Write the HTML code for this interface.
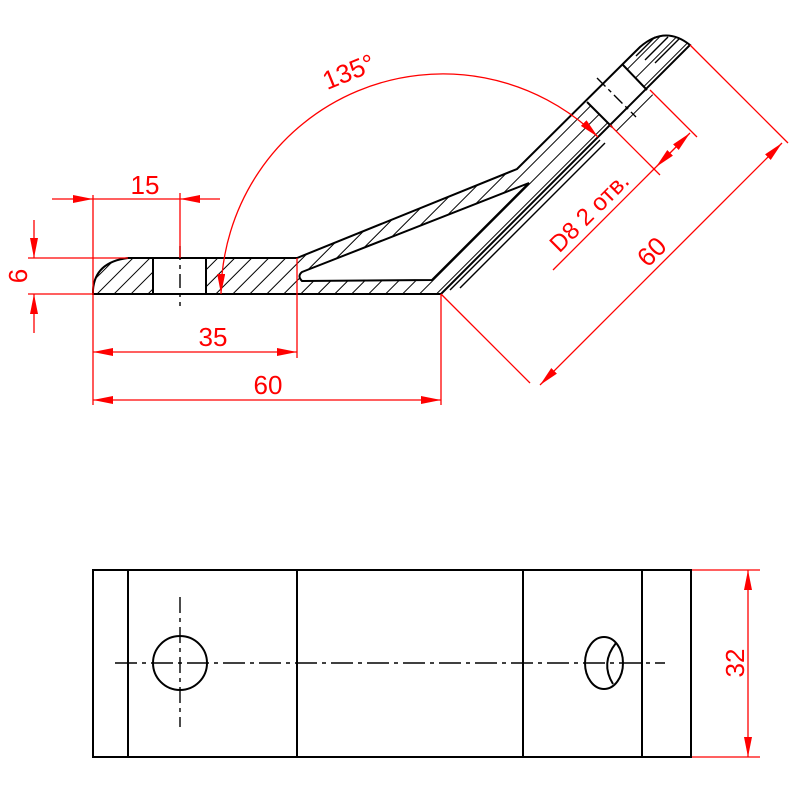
<!DOCTYPE html>
<html><head><meta charset="utf-8"><style>body{margin:0;background:#fff}svg{display:block}</style></head><body>
<svg width="800" height="800" viewBox="0 0 800 800" xmlns="http://www.w3.org/2000/svg" font-family="Liberation Sans, sans-serif">
<defs>
<pattern id="h" patternUnits="userSpaceOnUse" width="12" height="12" patternTransform="rotate(45)">
<line x1="0" y1="0" x2="0" y2="12" stroke="#000" stroke-width="2"/>
</pattern>
<marker id="a" viewBox="0 0 20 8" refX="20" refY="4" markerWidth="20" markerHeight="8" markerUnits="userSpaceOnUse" orient="auto-start-reverse"><path d="M0,0 L20,4 L0,8 Z" fill="red"/></marker>
</defs>
<path fill="url(#h)" fill-rule="evenodd" d="M93,294 L441,294 L690,45 Q665,25 640,47 L517,169 L297,258 L128,258 Q95,262 93,290 Z
M153,258 L206,258 L206,294 L153,294 Z
M302,272 L529,183 L432,280 L302,281 Q297,276 302,272 Z
M587,102 L623,65 L659,101 L623,138 Z"/>
<g fill="none" stroke="#000" stroke-width="2">
<path d="M93,294 L441,294 L690,45 Q665,25 640,47 L517,169 L297,258 L128,258 Q95,262 93,290 Z"/>
<path d="M302,272 L529,183 L432,280 L302,281 Q297,276 302,272 Z"/>
<line x1="153" y1="258" x2="153" y2="294"/><line x1="206" y1="258" x2="206" y2="294"/>
<line x1="587" y1="102" x2="612" y2="127"/><line x1="623" y1="65" x2="647" y2="90"/>
</g>
<g stroke="#000" stroke-width="1.4">
<line x1="450" y1="290" x2="600" y2="140"/><line x1="460" y1="288" x2="605" y2="143"/>
<line x1="636" y1="56" x2="655" y2="37"/><line x1="645" y1="60" x2="668" y2="37"/><line x1="655" y1="63" x2="680" y2="38"/>
<line x1="180" y1="246" x2="180" y2="306" stroke-dasharray="14,5,4,5"/>
<line x1="597" y1="78" x2="636" y2="117" stroke-dasharray="12,4,4,4"/>
</g>
<g stroke="red" stroke-width="1.3" fill="none">
<line x1="93" y1="195" x2="93" y2="405"/>
<line x1="180" y1="193" x2="180" y2="258"/>
<line x1="297" y1="258" x2="297" y2="358"/>
<line x1="441" y1="294" x2="441" y2="405"/>
<line x1="52" y1="199" x2="93" y2="199" marker-end="url(#a)"/>
<line x1="93" y1="199" x2="180" y2="199"/>
<line x1="220" y1="199" x2="180" y2="199" marker-end="url(#a)"/>
<line x1="28" y1="258" x2="128" y2="258"/><line x1="28" y1="294" x2="93" y2="294"/>
<line x1="34" y1="220" x2="34" y2="258" marker-end="url(#a)"/>
<line x1="34" y1="333" x2="34" y2="294" marker-end="url(#a)"/>
<line x1="93" y1="352" x2="297" y2="352" marker-start="url(#a)" marker-end="url(#a)"/>
<line x1="93" y1="400" x2="441" y2="400" marker-start="url(#a)" marker-end="url(#a)"/>
<path d="M221,294 A222,222 0 0 1 598,137" marker-start="url(#a)" marker-end="url(#a)"/>
<line x1="441" y1="294" x2="530" y2="383"/>
<line x1="690" y1="45" x2="788" y2="143"/>
<line x1="540" y1="385" x2="782" y2="143" marker-start="url(#a)" marker-end="url(#a)"/>
<line x1="610" y1="125" x2="660" y2="175"/>
<line x1="650" y1="90" x2="697" y2="137"/>
<line x1="553" y1="270" x2="656" y2="167"/>
<line x1="656" y1="167" x2="690" y2="133" marker-start="url(#a)" marker-end="url(#a)"/>
<line x1="691" y1="570" x2="760" y2="570"/><line x1="691" y1="757" x2="760" y2="757"/>
<line x1="748" y1="570" x2="748" y2="757" marker-start="url(#a)" marker-end="url(#a)"/>
</g>
<g fill="red" font-size="26" text-anchor="middle">
<text x="145" y="194">15</text>
<text x="213" y="346">35</text>
<text x="268" y="394">60</text>
<text transform="translate(27,276) rotate(-90)">6</text>
<text transform="translate(352,80) rotate(-22)">135°</text>
<text transform="translate(658,258) rotate(-45)">60</text>
<text transform="translate(595,218) rotate(-45)" font-size="24">D8 2 отв.</text>
<text transform="translate(744,663) rotate(-90)">32</text>
</g>
<g fill="none" stroke="#000" stroke-width="2">
<rect x="93" y="570" width="598" height="187"/>
<line x1="128" y1="570" x2="128" y2="757"/>
<line x1="297" y1="570" x2="297" y2="757"/>
<line x1="523" y1="570" x2="523" y2="757"/>
<line x1="642" y1="570" x2="642" y2="757"/>
<circle cx="180" cy="663" r="27"/>
<ellipse cx="604" cy="663" rx="19" ry="26"/>
<path d="M616,643 Q600,663 613,684"/>
</g>
<g stroke="#000" stroke-width="1.4">
<line x1="115" y1="663" x2="665" y2="663" stroke-dasharray="22,5,4,5"/>
<line x1="180" y1="597" x2="180" y2="727" stroke-dasharray="16,5,4,5"/>
</g>
</svg>
</body></html>
